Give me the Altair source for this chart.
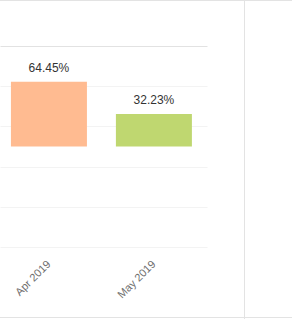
import altair as alt
import pandas as pd

months = ["Apr 2019", "May 2019"]
shares = [64.45, 32.23]
labels = ["64.45%", "32.23%"]
colors = ["#FFBB91", "#BFD770"]

df = pd.DataFrame({"month": months, "share": shares, "label": labels})

x = alt.X("month:N", sort=months, title=None,
          scale=alt.Scale(paddingInner=0.276, paddingOuter=0.124, align=0.42),
          axis=alt.Axis(labelAngle=-45, ticks=False, domain=False, grid=False,
                        labelColor="#6e6e6e", labelFont="Liberation Sans",
                        labelFontSize=11, labelPadding=11, labelOffset=-4))
y = alt.Y("share:Q", title=None,
          scale=alt.Scale(domain=[-100, 100], nice=False),
          axis=alt.Axis(values=[-100, -80, -60, -40, -20, 0, 20, 40, 60, 80, 100],
                        labels=False, ticks=False, domain=False,
                        gridColor={"condition": {"test": "datum.value === 0 || datum.value === 100",
                                                 "value": "#e2e2e2"},
                                   "value": "#f3f3f3"}))

bars = alt.Chart(df).mark_bar(strokeWidth=1).encode(
    x=x, y=y,
    color=alt.Color("month:N", scale=alt.Scale(domain=months, range=colors), legend=None),
)
text = alt.Chart(df).mark_text(dy=-10, font="Liberation Sans", fontSize=12,
                               color="#333333", baseline="alphabetic").encode(
    x=alt.X("month:N", sort=months), y="share:Q", text="label:N")

frame_top = alt.Chart(df).mark_rule(color="#e3e3e3").encode(
    x=alt.value(0), x2=alt.value(292), y=alt.value(-45.5))
frame_bottom = alt.Chart(df).mark_rule(color="#e3e3e3").encode(
    x=alt.value(0), x2=alt.value(292), y=alt.value(271.5))
frame_v = alt.Chart(df).mark_rule(color="#e3e3e3").encode(
    x=alt.value(244.5), y=alt.value(-46), y2=alt.value(273))

chart = alt.layer(bars, text, frame_top, frame_bottom, frame_v).properties(
    width=207, height=201,
    autosize=alt.AutoSizeParams(type="none"),
    padding={"left": 0, "top": 46, "right": 85, "bottom": 72},
    background="white",
).configure_view(stroke=None)

chart.save("out.html", embed_options={"renderer": "svg", "actions": False})
